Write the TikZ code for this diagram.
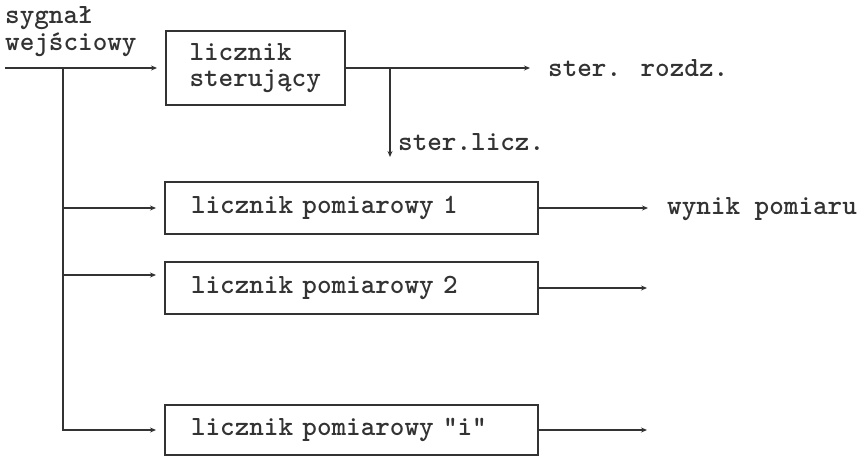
\documentclass[tikz,border=0pt]{standalone}
\usetikzlibrary{arrows.meta}
\definecolor{ink}{HTML}{333333}
\begin{document}
\begin{tikzpicture}[x=1pt,y=-1pt,
  txt/.style={font=\ttfamily\bfseries\fontsize{27.8}{26}\selectfont, text=ink},
  lbl/.style={txt, inner sep=0pt, anchor=base west},
  line/.style={draw=ink, line width=2pt},
  arr/.style={line, -{Stealth[length=6pt,width=5pt]}},
  box/.style={txt, draw=ink, line width=2pt, minimum height=52pt,
    text width=321pt, inner xsep=26pt, align=left},
  topbox/.style={txt, draw=ink, line width=2pt, minimum height=74pt,
    text width=132pt, inner xsep=23.5pt, inner ysep=0pt, align=left}]
\useasboundingbox (0,0) rectangle (863,456);

% boxes
\node[topbox] (ctrl) at (255.5,68) {licznik\\sterujący};
\node[box] (m1) at (351.5,208) {licznik pomiarowy 1};
\node[box] (m2) at (351.5,288) {licznik pomiarowy 2};
\node[box, minimum height=50pt] (mi) at (351.5,430) {licznik pomiarowy "i"};

% labels
\node[lbl] (l1) at (5,23) {sygnał};
\node[lbl] (l2) at (5,50) {wejściowy};
\node[lbl] (rozdz) at (548,76) {ster. rozdz.};
\node[lbl] (slicz) at (398,150) {ster.licz.};
\node[lbl] (wynik) at (667,214) {wynik pomiaru};

% coordinates
\coordinate (in) at (5,68);
\coordinate (bj) at (63,68);
\coordinate (br) at (390,68);
\coordinate (brend) at (390,157);
\coordinate (m2in) at ([yshift=13pt]m2.west);
\coordinate (o2) at (647,288);
\coordinate (oi) at (647,430);

% input and bus
\draw[arr, shorten >=8pt] (in) -- (ctrl.west);
\draw[arr, shorten >=8pt] (bj) |- (mi.west);
\draw[arr, shorten >=8pt] (bj |- m1.west) -- (m1.west);
\draw[arr, shorten >=8pt] (bj |- m2in) -- (m2in);

% outputs
\draw[arr, shorten >=18pt] (ctrl.east) -- (ctrl.east -| rozdz.west);
\draw[arr] (br) -- (brend);
\draw[arr, shorten >=19pt] (m1.east) -- (m1.east -| wynik.west);
\draw[arr] (m2.east) -- (m2.east -| o2);
\draw[arr] (mi.east) -- (mi.east -| oi);
\end{tikzpicture}
\end{document}
